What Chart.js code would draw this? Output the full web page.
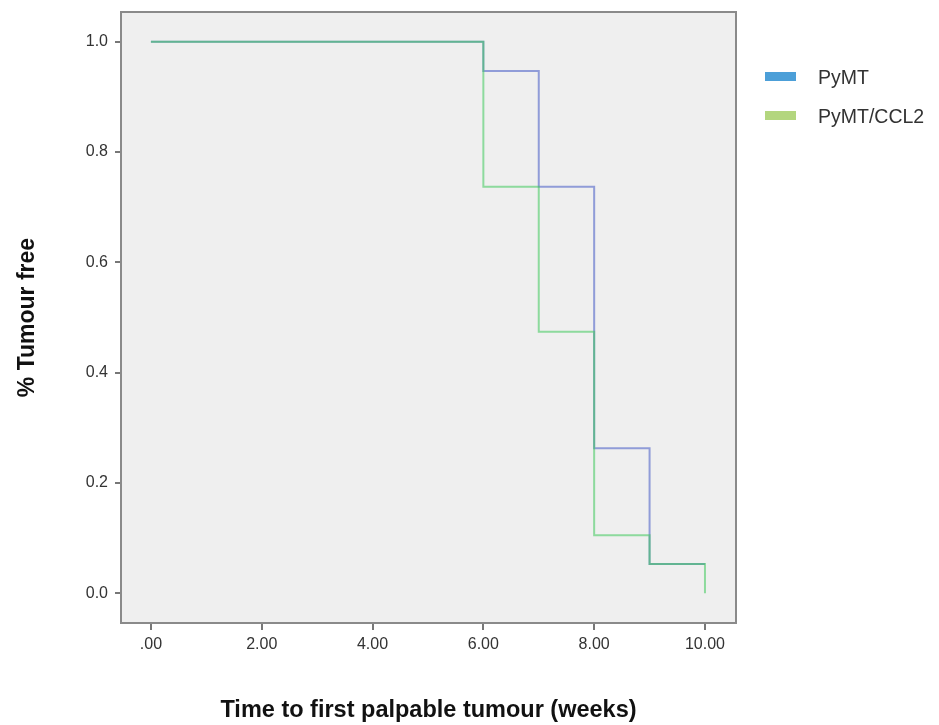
<!DOCTYPE html>
<html><head><meta charset="utf-8">
<script src="https://cdn.jsdelivr.net/npm/chart.js@4"></script>
<style>html,body{margin:0;padding:0;background:#fff}#w{width:939px;height:725px;position:relative}</style>
</head><body><div id="w"><canvas id="c" width="939" height="725"></canvas></div>
<script>
const seriesNames = ['PyMT', 'PyMT/CCL2'];
const weeks = [0, 6, 7, 8, 9, 10];
const pymt = [1.0, 0.947, 0.737, 0.263, 0.053, 0.053];
const pymtCcl2 = [1.0, 0.737, 0.474, 0.105, 0.053, 0.0];
const xTickValues = [0, 2, 4, 6, 8, 10];
const xTickLabels = ['.00', '2.00', '4.00', '6.00', '8.00', '10.00'];
const yTickValues = [0, 0.2, 0.4, 0.6, 0.8, 1.0];
const yTickLabels = ['0.0', '0.2', '0.4', '0.6', '0.8', '1.0'];
const lineColors = ['rgba(80,100,200,0.6)', 'rgba(60,200,90,0.55)'];
const legendColors = ['#4c9fd8', '#b3d67e'];

const FONT = '"Liberation Sans", Arial, sans-serif';
const toPts = (xs, ys) => xs.map((x, i) => ({x: x, y: ys[i]}));

const framePlugin = {
  id: 'frame',
  beforeDatasetsDraw(chart) {
    const {ctx, chartArea: a} = chart;
    ctx.save();
    ctx.fillStyle = '#efefef';
    ctx.fillRect(a.left, a.top, a.right - a.left, a.bottom - a.top);
    ctx.restore();
  },
  afterDraw(chart) {
    const {ctx, chartArea: a} = chart;
    ctx.save();
    ctx.strokeStyle = '#8a8a8a';
    ctx.lineWidth = 2;
    ctx.strokeRect(a.left, a.top, a.right - a.left, a.bottom - a.top);
    // legend
    ctx.font = '19.5px ' + FONT;
    ctx.textBaseline = 'middle';
    const sw = [76, 115];
    const tx = [79, 118];
    seriesNames.forEach((n, i) => {
      ctx.fillStyle = legendColors[i];
      ctx.fillRect(765, sw[i] - 4, 31, 9);
      ctx.fillStyle = '#333';
      ctx.fillText(n, 818, tx[i]);
    });
    ctx.restore();
  }
};

new Chart(document.getElementById('c'), {
  type: 'line',
  data: {
    datasets: [
      {label: seriesNames[0], data: toPts(weeks, pymt), borderColor: lineColors[0], borderWidth: 2, stepped: 'before', pointRadius: 0, fill: false, order: 1},
      {label: seriesNames[1], data: toPts(weeks, pymtCcl2), borderColor: lineColors[1], borderWidth: 2, stepped: 'before', pointRadius: 0, fill: false, order: 0}
    ]
  },
  options: {
    responsive: false,
    animation: false,
    layout: {padding: {left: 0, right: 203, top: 12, bottom: 0}},
    plugins: {legend: {display: false}, tooltip: {enabled: false}},
    scales: {
      x: {
        type: 'linear', min: -0.54, max: 10.56,
        afterFit(s) { s.height = 102; s.paddingLeft = 0; s.paddingRight = 0; },
        afterBuildTicks(s) { s.ticks = xTickValues.map(v => ({value: v})); },
        ticks: {
          padding: 5, color: '#333',
          font: {family: FONT, size: 16},
          callback: (v) => xTickLabels[xTickValues.indexOf(v)]
        },
        grid: {drawOnChartArea: false, drawTicks: true, tickLength: 7, color: '#777', lineWidth: 2},
        border: {display: false},
        title: {display: true, text: 'Time to first palpable tumour (weeks)', color: '#111',
          font: {family: FONT, size: 23.5, weight: 'bold'},
          padding: {top: 0, bottom: 0}}
      },
      y: {
        type: 'linear', min: -0.054, max: 1.054,
        afterFit(s) { s.width = 121; s.paddingTop = 0; s.paddingBottom = 0; },
        afterBuildTicks(s) { s.ticks = yTickValues.map(v => ({value: v})); },
        ticks: {
          padding: 7, color: '#333',
          font: {family: FONT, size: 16},
          callback: (v) => yTickLabels[yTickValues.findIndex(t => Math.abs(t - v) < 1e-9)]
        },
        grid: {drawOnChartArea: false, drawTicks: true, tickLength: 6, color: '#777', lineWidth: 2},
        border: {display: false},
        title: {display: true, text: '% Tumour free', color: '#111',
          font: {family: FONT, size: 23, weight: 'bold'},
          padding: {top: 14, bottom: 0}}
      }
    }
  },
  plugins: [framePlugin]
});
</script>
</body></html>
